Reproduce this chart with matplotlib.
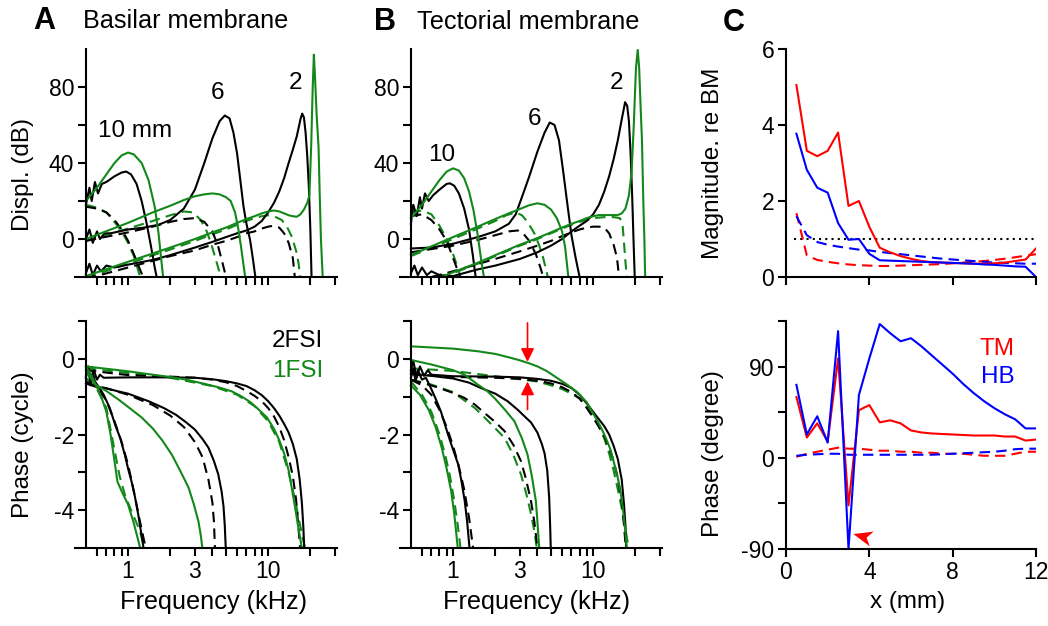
import numpy as np
import matplotlib.pyplot as plt
from matplotlib.ticker import NullFormatter

plt.rcParams['font.family'] = ['Liberation Sans', 'DejaVu Sans']

GREEN = '#13881a'

# ---------------- Panel A top: basilar membrane displacement (kHz, dB) ----------------
bm_k10 = [(0.5,18),(0.53,27),(0.55,20),(0.58,30),(0.61,24),(0.65,29),(0.7,30),(0.8,33),(0.9,35),
          (0.97,35.5),(1.05,34),(1.15,29),(1.25,20),(1.35,9),(1.45,-3),(1.55,-15),(1.6,-20)]
bm_g10 = [(0.5,20),(0.6,27),(0.7,34),(0.8,40),(0.9,44),(1.0,45.5),(1.1,44.5),(1.25,40),(1.4,31),
          (1.55,17),(1.65,3),(1.72,-10),(1.78,-20)]
bm_kd10 = [(0.5,17),(0.6,16),(0.7,14),(0.8,10),(0.9,5),(1.0,-1),(1.1,-8),(1.2,-15),(1.28,-20)]
bm_gd10 = [(0.5,18),(0.6,16.5),(0.7,14),(0.8,9),(0.9,4),(1.0,-2),(1.1,-9),(1.22,-20)]

bm_k6 = [(0.5,0),(0.53,5),(0.56,-2),(0.6,4),(0.63,0),(0.68,3),(0.75,3),(1.0,5),(1.3,6),(1.65,7.5),
         (2.0,10),(2.5,16),(3.0,26),(3.5,40),(4.0,53),(4.5,62),(4.9,65),(5.3,63.5),(5.65,56),(6.0,45),
         (6.67,17),(7.0,8),(7.43,-0.5),(7.8,-11),(8.1,-20)]
bm_g6 = [(0.5,0),(1.0,8.5),(1.5,14),(2.0,17.5),(2.5,20.5),(3.0,22.5),(3.5,23.5),(4.0,24),(4.5,23.5),
         (5.0,22),(5.4,20),(5.8,14),(6.1,6),(6.4,-4),(6.85,-20)]
bm_kd6 = [(0.5,-1),(1.0,3.5),(1.5,6.5),(2.0,9),(2.5,10.5),(3.0,11),(3.5,9),(4.0,4),(4.4,-4),(4.7,-12),(5.0,-20)]
bm_gd6 = [(0.5,-1),(1.0,5.5),(1.5,9.5),(2.0,12.5),(2.5,14.5),(2.9,14),(3.3,10),(3.6,5),(3.9,-2),(4.2,-10),(4.6,-20)]

bm_k2 = [(0.5,-18),(0.53,-13),(0.56,-19),(0.6,-14),(0.64,-17),(0.7,-14),(0.8,-15),(1.0,-13.5),(1.5,-11),
         (2.0,-8.5),(3.0,-4.5),(4.0,-1.5),(5.0,1),(6.0,3),(7.0,4.5),(8.0,6.5),(9.0,9.5),(10.0,14),(11.0,19),
         (12.0,25),(13.0,32),(14.0,40),(15.0,47),(16.0,54),(17.0,63),(17.5,66),(18.0,64),(18.5,56),(19.0,44),
         (19.5,28),(20.0,5),(20.4,-20)]
bm_g2 = [(0.5,-19.5),(1.0,-12),(2.0,-4.5),(3.0,0),(4.0,3.5),(5.0,6),(6.0,8.5),(7.0,10.5),(8.0,12),(9.0,13.5),
         (10.0,14.5),(11.0,15),(12.0,14.5),(13.0,13.5),(14.0,12.5),(15.0,12),(16.0,11.7),(17.0,13),(18.0,15.5),
         (19.0,19),(19.7,23),(20.3,50),(20.8,80),(21.2,97),(21.6,85),(22.2,65),(22.9,48),(23.3,25),(23.8,0),(24.5,-20)]
bm_kd2 = [(0.5,-21),(1.0,-15),(2.0,-9),(3.0,-6),(4.0,-3),(5.0,-1),(6.0,1),(7.0,3),(8.0,4),(9.0,5.5),
          (10.0,6.5),(11.0,7),(12.0,6),(13.0,3),(14.0,-2),(15.0,-10),(15.5,-20)]
bm_gd2 = [(0.5,-20.5),(1.0,-13),(2.0,-5.5),(3.0,-1),(4.0,2.5),(5.0,5),(6.0,7.5),(7.0,9.5),(8.0,11),(9.0,12),
          (10.0,12.5),(11.2,11.7),(12.5,10),(13.6,6.5),(14.8,1),(16.0,-7.5),(16.5,-13),(16.9,-20)]

# ---------------- Panel B top: tectorial membrane displacement ----------------
tm_k10 = [(0.5,8),(0.52,18),(0.55,12),(0.58,22),(0.6,16),(0.63,24),(0.67,20),(0.72,23),(0.8,26),(0.9,29),
          (0.95,29.3),(1.02,28),(1.1,24),(1.2,16),(1.3,5),(1.38,-8),(1.45,-20)]
tm_g10 = [(0.5,11),(0.6,18),(0.7,25),(0.8,31),(0.9,35.5),(1.0,37.2),(1.1,36),(1.2,32),(1.3,25),(1.4,15),
          (1.5,2),(1.58,-10),(1.66,-20)]
tm_kd10 = [(0.5,12),(0.6,13),(0.7,10),(0.8,5),(0.9,-1),(1.0,-10),(1.06,-15),(1.12,-20)]
tm_gd10 = [(0.5,14),(0.6,15),(0.7,13),(0.8,7),(0.9,0),(1.0,-8),(1.08,-15),(1.13,-20)]

tm_k6 = [(0.5,-5),(0.7,-4.5),(1.0,-2.5),(1.5,1),(2.0,4),(2.5,8),(2.8,13),(3.1,22),(3.5,33),(4.0,46),(4.5,56),
         (4.9,61.3),(5.3,60),(5.7,52),(6.1,36),(6.5,20),(7.0,2),(7.5,-10),(8.0,-20)]
tm_g6 = [(0.5,-8.5),(1.0,1),(1.5,6.5),(2.0,10.5),(2.5,13.5),(3.0,15.8),(3.5,17.8),(4.0,18.8),(4.5,18),
         (5.0,15.5),(5.5,11),(6.0,4),(6.3,-4),(6.65,-20)]
tm_kd6 = [(0.5,-7),(1.0,-3.5),(1.5,-0.5),(2.0,2),(2.5,4),(2.9,4.5),(3.2,2.5),(3.5,-1),(3.9,-8),(4.2,-15),(4.4,-20)]
tm_gd6 = [(0.5,-9),(1.0,0),(1.5,5.5),(2.0,9.5),(2.4,12.5),(2.8,14),(3.1,12.5),(3.4,9),(3.8,3),(4.1,-3),
          (4.4,-10),(4.75,-20)]

tm_k2 = [(0.5,-18),(0.53,-14),(0.56,-19),(0.6,-15),(0.65,-19),(0.7,-17),(0.8,-19),(1.0,-19.5),(1.5,-16),
         (2.0,-14),(3.0,-10.5),(4.0,-7),(5.0,-3.5),(6.0,0),(7.0,4),(8.0,7),(9.0,9.5),(10.0,13),(11.0,18),
         (12.0,25),(13.0,33),(14.0,42),(15.0,52),(16.0,63),(16.9,72),(17.5,70),(18.0,62),(18.5,45),(19.0,22),
         (19.4,0),(19.8,-20)]
tm_g2 = [(0.83,-20),(1.0,-17.5),(1.5,-12.5),(2.0,-8.5),(3.0,-3),(4.0,0.5),(5.0,3.5),(6.0,6),(7.0,8),(8.0,9.5),
         (9.0,11),(10.0,12),(11.0,12.6),(13.0,12.6),(15.0,12.6),(16.0,13.5),(17.0,16),(18.0,23),(18.8,35),
         (19.5,60),(20.2,90),(20.8,99.5),(21.3,90),(21.8,70),(22.3,52),(22.8,20),(23.2,0),(23.5,-20)]
tm_kd2 = [(0.7,-20),(1.0,-17),(2.0,-10.5),(3.0,-6.5),(4.0,-3.5),(5.0,-1),(6.0,1.5),(7.0,3.5),(8.0,5),(9.0,6),
          (10.0,6.5),(11.0,6.5),(12.0,6),(13.0,3),(14.0,-3),(14.8,-10),(15.3,-20)]
tm_gd2 = [(0.8,-20),(1.0,-18),(1.5,-13),(2.0,-9),(3.0,-3.5),(4.0,0),(5.0,3),(6.0,5.5),(7.0,7.5),(8.0,9),
          (10.0,11),(12.0,11.5),(14.0,11.5),(15.5,11),(16.2,8),(16.6,-2),(17.0,-12),(17.4,-20)]

# ---------------- Panel A bottom: BM phase (cycle) ----------------
bmp_k10 = [(0.5,-0.5),(0.52,-0.2),(0.54,-0.7),(0.56,-0.35),(0.58,-0.6),(0.62,-0.75),(0.67,-0.95),(0.74,-1.3),
           (0.81,-1.75),(0.88,-2.1),(0.95,-2.55),(1.0,-2.9),(1.06,-3.25),(1.12,-3.65),(1.18,-4.1),(1.24,-4.6),(1.29,-5)]
bmp_kd10 = [(0.5,-0.6),(0.6,-0.75),(0.7,-1.1),(0.8,-1.65),(0.9,-2.2),(1.0,-2.8),(1.1,-3.5),(1.2,-4.2),(1.3,-4.8),(1.34,-5)]
bmp_g10 = [(0.5,-0.2),(0.55,-0.45),(0.6,-0.75),(0.65,-1.05),(0.7,-1.4),(0.75,-2.0),(0.8,-2.7),(0.84,-3.25),
           (0.9,-3.5),(1.0,-3.85),(1.1,-4.35),(1.22,-5)]
bmp_gd10 = [(0.5,-0.5),(0.6,-0.8),(0.7,-1.3),(0.8,-2.4),(0.87,-3.1),(0.95,-3.6),(1.05,-4.0),(1.2,-4.5),(1.32,-5)]

bmp_k6 = [(0.5,-0.65),(0.58,-0.73),(0.7,-0.78),(0.85,-0.86),(1.0,-0.92),(1.4,-1.12),(1.8,-1.3),(2.2,-1.48),
          (2.6,-1.68),(3.0,-1.87),(3.4,-2.12),(3.75,-2.35),(4.1,-2.7),(4.4,-3.05),(4.65,-3.5),(4.8,-3.9),(4.9,-4.4),(4.98,-5)]
bmp_kd6 = [(0.5,-0.65),(0.7,-0.78),(1.0,-0.95),(1.5,-1.22),(2.0,-1.5),(2.5,-1.8),(3.0,-2.2),(3.4,-2.6),
           (3.75,-3.2),(4.0,-3.8),(4.1,-4.3),(4.17,-5)]
bmp_g6 = [(0.5,-0.3),(0.58,-0.68),(0.7,-0.85),(0.85,-1.07),(1.0,-1.27),(1.25,-1.55),(1.5,-1.84),(1.75,-2.15),
          (2.05,-2.53),(2.35,-2.95),(2.7,-3.4),(2.95,-3.85),(3.18,-4.3),(3.3,-4.65),(3.39,-5)]

bmp_k2 = [(0.5,-0.45),(0.52,-0.25),(0.54,-0.6),(0.57,-0.3),(0.6,-0.55),(0.63,-0.42),(0.67,-0.5),(1.0,-0.49),
          (2.0,-0.49),(3.0,-0.5),(4.0,-0.54),(5.0,-0.59),(6.0,-0.65),(7.0,-0.72),(8.0,-0.83),(9.0,-0.96),
          (10.0,-1.12),(11.0,-1.3),(12.0,-1.5),(13.0,-1.72),(14.0,-1.95),(15.0,-2.25),(16.0,-2.65),(16.8,-3.2),
          (17.4,-3.8),(17.8,-4.4),(18.1,-5)]
bmp_kd2 = [(0.5,-0.3),(1.0,-0.43),(2.0,-0.47),(3.0,-0.5),(4.0,-0.55),(5.0,-0.62),(6.0,-0.72),(7.0,-0.85),
           (8.0,-0.98),(9.0,-1.12),(10.0,-1.3),(11.0,-1.52),(12.0,-1.8),(13.0,-2.15),(14.0,-2.6),(15.0,-3.1),
           (15.8,-3.7),(16.4,-4.4),(16.9,-5)]
bmp_g2 = [(0.5,-0.2),(1.0,-0.33),(1.5,-0.42),(2.0,-0.48),(2.6,-0.55),(3.5,-0.66),(4.5,-0.76),(5.5,-0.86),
          (6.5,-1.0),(7.5,-1.15),(8.5,-1.33),(9.8,-1.55),(11.0,-1.85),(12.0,-2.15),(13.0,-2.5),(14.0,-2.95),
          (14.8,-3.45),(15.6,-3.95),(16.4,-4.45),(17.4,-5)]
bmp_gd2 = [(0.5,-0.25),(2.0,-0.5),(4.0,-0.72),(6.0,-0.95),(8.0,-1.25),(10.0,-1.65),(12.0,-2.2),(14.0,-3.0),
           (15.5,-3.7),(16.8,-4.35),(18.3,-5)]

# ---------------- Panel B bottom: TM phase (cycle) ----------------
tmp_k10 = [(0.5,-0.5),(0.52,-0.25),(0.54,-0.6),(0.56,-0.3),(0.6,-0.55),(0.64,-0.5),(0.68,-0.7),(0.75,-1.05),
           (0.82,-1.4),(0.92,-2.0),(1.0,-2.4),(1.09,-2.8),(1.15,-3.25),(1.21,-3.75),(1.26,-4.3),(1.31,-5)]
tmp_kd10 = [(0.5,-0.55),(0.6,-0.7),(0.7,-0.95),(0.8,-1.35),(0.9,-1.8),(1.0,-2.3),(1.1,-2.85),(1.2,-3.45),(1.3,-4.2),(1.39,-5)]
tmp_g10 = [(0.5,-0.7),(0.58,-0.95),(0.67,-1.35),(0.75,-1.8),(0.83,-2.35),(0.9,-2.9),(0.97,-3.5),(1.02,-4.1),(1.08,-5)]
tmp_gd10 = [(0.5,-0.6),(0.6,-0.95),(0.7,-1.4),(0.8,-2.0),(0.88,-2.55),(0.95,-3.1),(1.02,-3.75),(1.08,-4.4),(1.13,-5)]

tmp_k6 = [(0.5,-0.4),(0.7,-0.45),(1.0,-0.52),(1.3,-0.63),(1.6,-0.78),(2.0,-0.92),(2.45,-1.12),(2.9,-1.35),
          (3.3,-1.55),(3.6,-1.68),(4.0,-1.95),(4.3,-2.25),(4.5,-2.5),(4.7,-2.95),(4.85,-3.65),(4.93,-4.4),(4.98,-5)]
tmp_kd6 = [(0.5,-0.55),(0.74,-0.73),(1.0,-0.9),(1.2,-1.03),(1.43,-1.21),(1.7,-1.45),(2.0,-1.67),(2.33,-1.91),
           (2.7,-2.28),(3.05,-2.7),(3.3,-3.15),(3.6,-3.76),(3.8,-4.3),(4.0,-5)]
tmp_g6 = [(0.5,-0.03),(0.7,-0.15),(1.0,-0.3),(1.21,-0.42),(1.5,-0.68),(1.75,-0.85),(1.98,-1.04),(2.35,-1.35),
          (2.74,-1.65),(3.1,-2.1),(3.4,-2.53),(3.65,-3.1),(3.9,-3.76),(4.0,-4.3),(4.12,-5)]
tmp_gd6 = [(0.5,-0.55),(0.7,-0.68),(1.0,-0.88),(1.43,-1.3),(1.9,-1.75),(2.33,-2.09),(2.7,-2.55),(3.05,-3.05),
           (3.35,-3.6),(3.6,-4.1),(3.8,-4.55),(3.96,-5)]

tmp_k2 = [(0.5,-0.3),(0.52,-0.05),(0.55,-0.5),(0.58,-0.2),(0.62,-0.45),(0.66,-0.3),(0.7,-0.42),(1.0,-0.46),
          (2.0,-0.47),(3.0,-0.49),(4.0,-0.53),(5.0,-0.58),(6.0,-0.66),(7.0,-0.77),(8.0,-0.95),(9.0,-1.18),
          (10.0,-1.4),(11.0,-1.6),(12.0,-1.78),(13.0,-2.0),(14.0,-2.3),(15.0,-2.65),(16.0,-3.2),(16.6,-3.85),
          (17.0,-4.4),(17.2,-5)]
tmp_kd2 = [(0.5,-0.4),(1.0,-0.48),(2.0,-0.5),(3.0,-0.53),(4.0,-0.58),(5.0,-0.65),(6.0,-0.75),(7.0,-0.88),
           (8.0,-1.05),(9.0,-1.3),(10.0,-1.55),(11.0,-1.8),(12.0,-2.05),(13.0,-2.35),(14.0,-2.7),(15.0,-3.15),
           (16.0,-3.8),(16.6,-4.4),(17.1,-5)]
tmp_g2 = [(0.5,0.33),(1.0,0.27),(1.5,0.2),(2.0,0.13),(2.5,0.04),(3.0,-0.04),(3.5,-0.12),(4.0,-0.2),(4.7,-0.33),
          (5.5,-0.5),(6.5,-0.68),(7.7,-0.88),(9.0,-1.15),(10.1,-1.47),(11.5,-1.85),(12.5,-2.15),(13.3,-2.4),
          (14.2,-2.8),(15.0,-3.15),(15.6,-3.45),(16.3,-3.95),(16.9,-4.5),(17.4,-5)]
tmp_gd2 = [(0.5,-0.25),(1.0,-0.32),(2.0,-0.46),(3.0,-0.54),(4.0,-0.6),(5.0,-0.7),(6.0,-0.8),(7.0,-0.92),
           (8.0,-1.05),(9.0,-1.25),(10.0,-1.5),(11.0,-1.8),(12.0,-2.1),(13.0,-2.5),(14.0,-2.95),(15.0,-3.45),
           (16.0,-3.95),(17.0,-4.5),(17.9,-5)]

# ---------------- Panel C: ratios vs position ----------------
x_mm = np.arange(0.5, 12.01, 0.5)
mag_tm = [5.05,3.32,3.18,3.32,3.8,1.87,2.0,1.32,0.77,0.65,0.55,0.48,0.42,0.39,0.38,0.37,0.36,0.35,0.35,0.36,0.38,0.42,0.46,0.75]
mag_hb = [3.77,2.82,2.35,2.22,1.42,0.98,1.0,0.61,0.44,0.43,0.42,0.41,0.40,0.39,0.38,0.37,0.36,0.35,0.33,0.32,0.30,0.28,0.27,0.0]
mag_tm_1 = [1.68,0.57,0.45,0.4,0.36,0.33,0.31,0.3,0.29,0.29,0.3,0.31,0.32,0.33,0.34,0.36,0.38,0.4,0.42,0.45,0.48,0.52,0.56,0.6]
mag_hb_1 = [1.6,1.1,0.92,0.85,0.8,0.76,0.72,0.7,0.66,0.63,0.6,0.57,0.54,0.51,0.48,0.46,0.44,0.42,0.4,0.38,0.37,0.36,0.35,0.35]
ph_tm = [60,20,34,16,98,-47,47,52,35,37,34,27,25,24,23.5,23,22.5,22,22,22,21,21,17,18]
ph_hb = [72,23,41,15,125,-90,62,98,132,123,115,118,110,101,92,83,73,64,56,49,43,38,29,29]
ph_tm_1 = [1,4,6,8,10,9,9,8,7,7,6,6,5,5,4,4,4,3,2,2,2,4,6,6]
ph_hb_1 = [2,3,3.5,4,4,3,3,3,3,3,3,3,3,3,3.5,4,4.5,5,5.5,6,7,8.5,9,9]

freq_major = [1, 3, 10]
freq_minor = [0.6, 0.7, 0.8, 0.9, 2, 4, 5, 6, 7, 8, 9, 20, 30]

W, H = 1048, 626
fig = plt.figure(figsize=(W / 100, H / 100), dpi=100)


def rect(l, t, r, b):
    return [l / W, 1 - b / H, (r - l) / W, (b - t) / H]


def curve(ax, pts, color, dashed=False):
    f, v = zip(*pts)
    ax.plot(f, v, color=color, lw=1.5, ls=(0, (5, 3)) if dashed else '-')


def style(ax):
    for s in ['top', 'right']:
        ax.spines[s].set_visible(False)
    for s in ['left', 'bottom']:
        ax.spines[s].set_linewidth(1.5)
    ax.tick_params(which='both', direction='out', length=5.5, width=1.5, labelsize=16.5, pad=3)


def freq_axes(ax, top):
    style(ax)
    ax.set_xscale('log')
    ax.set_xlim(0.418, 31)
    ax.spines['left'].set_position(('data', 0.5))
    ax.set_xticks(freq_major)
    ax.set_xticks(freq_minor, minor=True)
    ax.xaxis.set_minor_formatter(NullFormatter())
    if top:
        ax.set_xticklabels([])
        ax.set_ylim(-20, 100)
        ax.set_yticks([0, 20, 40, 60, 80])
        ax.set_yticklabels(['0', '', '40', '', '80'])
    else:
        ax.set_xticklabels(['1', '3', '10'])
        ax.set_ylim(-5, 1)
        ax.set_yticks([1, 0, -1, -2, -3, -4])
        ax.set_yticklabels(['', '0', '', '-2', '', '-4'])
        ax.set_xlabel('Frequency (kHz)', fontsize=18.2)


axA1 = fig.add_axes(rect(75, 49, 337, 277))
axA2 = fig.add_axes(rect(75, 321, 337, 548))
axB1 = fig.add_axes(rect(400, 49, 662, 277))
axB2 = fig.add_axes(rect(400, 321, 662, 548))
axC1 = fig.add_axes(rect(786, 49, 1036, 277))
axC2 = fig.add_axes(rect(786, 321, 1036, 549))

# A top
for p in [bm_gd10, bm_gd6, bm_gd2]:
    curve(axA1, p, GREEN, True)
for p in [bm_kd10, bm_kd6, bm_kd2]:
    curve(axA1, p, 'k', True)
for p in [bm_k10, bm_k6, bm_k2]:
    curve(axA1, p, 'k')
for p in [bm_g10, bm_g6, bm_g2]:
    curve(axA1, p, GREEN)
freq_axes(axA1, True)
axA1.set_ylabel('Displ. (dB)', fontsize=17.5)
axA1.yaxis.set_label_coords(-0.156, 0.45)
axA1.text(1.13, 57, '10 mm', ha='center', va='center', fontsize=17.5)
axA1.text(4.32, 77, '6', ha='center', va='center', fontsize=17.5)
axA1.text(15.6, 82, '2', ha='center', va='center', fontsize=17.5)

# B top
for p in [tm_gd10, tm_gd6, tm_gd2]:
    curve(axB1, p, GREEN, True)
for p in [tm_kd10, tm_kd6, tm_kd2]:
    curve(axB1, p, 'k', True)
for p in [tm_k10, tm_k6, tm_k2]:
    curve(axB1, p, 'k')
for p in [tm_g10, tm_g6, tm_g2]:
    curve(axB1, p, GREEN)
freq_axes(axB1, True)
axB1.text(0.835, 44, '10', ha='center', va='center', fontsize=17.5)
axB1.text(3.81, 63, '6', ha='center', va='center', fontsize=17.5)
axB1.text(14.7, 82, '2', ha='center', va='center', fontsize=17.5)

# A bottom
for p in [bmp_gd10, bmp_gd2]:
    curve(axA2, p, GREEN, True)
for p in [bmp_kd10, bmp_kd6, bmp_kd2]:
    curve(axA2, p, 'k', True)
for p in [bmp_k10, bmp_k6, bmp_k2]:
    curve(axA2, p, 'k')
for p in [bmp_g10, bmp_g6, bmp_g2]:
    curve(axA2, p, GREEN)
freq_axes(axA2, False)
axA2.set_ylabel('Phase (cycle)', fontsize=17.5)
axA2.yaxis.set_label_coords(-0.156, 0.455)
axA2.xaxis.set_label_coords(0.53, -0.185)
axA2.text(24.7, 0.47, '2FSI', ha='right', va='center', fontsize=17.5, color='k')
axA2.text(24.7, -0.32, '1FSI', ha='right', va='center', fontsize=17.5, color=GREEN)

# B bottom
for p in [tmp_gd10, tmp_gd6, tmp_gd2]:
    curve(axB2, p, GREEN, True)
for p in [tmp_kd10, tmp_kd6, tmp_kd2]:
    curve(axB2, p, 'k', True)
for p in [tmp_k10, tmp_k6, tmp_k2]:
    curve(axB2, p, 'k')
for p in [tmp_g10, tmp_g6, tmp_g2]:
    curve(axB2, p, GREEN)
freq_axes(axB2, False)
axB2.xaxis.set_label_coords(0.52, -0.185)
arrow = dict(arrowstyle='-|>', color='red', lw=1.2, mutation_scale=20, shrinkA=0, shrinkB=0)
axB2.annotate('', xy=(3.4, -0.08), xytext=(3.4, 0.95), arrowprops=arrow)
axB2.annotate('', xy=(3.4, -0.6), xytext=(3.4, -1.34), arrowprops=arrow)

# C top
style(axC1)
axC1.axhline(1, xmin=0.03, color='k', ls=(0, (1, 2)), lw=1.5)
axC1.plot(x_mm, mag_tm_1, color='red', lw=1.5, ls=(0, (5, 3)))
axC1.plot(x_mm, mag_hb_1, color='blue', lw=1.5, ls=(0, (5, 3)))
axC1.plot(x_mm, mag_tm, color='red', lw=1.5)
axC1.plot(x_mm, mag_hb, color='blue', lw=1.5)
axC1.set_xlim(0, 12)
axC1.set_ylim(0, 6)
axC1.set_xticks([0, 4, 8, 12])
axC1.set_xticklabels([])
axC1.set_yticks([0, 2, 4, 6])
axC1.set_ylabel('Magnitude. re BM', fontsize=17.5)
axC1.yaxis.set_label_coords(-0.248, 0.5)

# C bottom
style(axC2)
axC2.plot(x_mm, ph_tm_1, color='red', lw=1.5, ls=(0, (5, 3)))
axC2.plot(x_mm, ph_hb_1, color='blue', lw=1.5, ls=(0, (5, 3)))
axC2.plot(x_mm, ph_tm, color='red', lw=1.5)
axC2.plot(x_mm, ph_hb, color='blue', lw=1.5)
axC2.set_xlim(0, 12)
axC2.set_ylim(-90, 135)
axC2.set_xticks([0, 4, 8, 12])
axC2.set_yticks([-90, -45, 0, 45, 90, 135])
axC2.set_yticklabels(['-90', '', '0', '', '90', ''])
axC2.set_xlabel('x (mm)', fontsize=17.5)
axC2.xaxis.set_label_coords(0.485, -0.185)
axC2.set_ylabel('Phase (degree)', fontsize=17.5)
axC2.yaxis.set_label_coords(-0.248, 0.42)
axC2.text(10.97, 107, 'TM', ha='right', va='center', fontsize=17.5, color='red')
axC2.text(10.97, 80, 'HB', ha='right', va='center', fontsize=17.5, color='blue')

# notched arrowhead marker pointing left (slightly up)
ang = np.deg2rad(-15)
head = np.array([(-1.0, 0.0), (1.0, 0.8), (0.45, 0.0), (1.0, -0.8), (-1.0, 0.0)])
rot = np.array([[np.cos(ang), -np.sin(ang)], [np.sin(ang), np.cos(ang)]])
head = head @ rot.T
axC2.plot([3.65], [-77], marker=head, markersize=16, color='red', markeredgewidth=0, clip_on=False)

# panel letters and titles
fig.text(0.0315, 0.966, 'A', fontsize=22, fontweight='bold', va='center')
fig.text(0.0792, 0.966, 'Basilar membrane', fontsize=18.2, va='center')
fig.text(0.357, 0.965, 'B', fontsize=22, fontweight='bold', va='center')
fig.text(0.398, 0.965, 'Tectorial membrane', fontsize=18.2, va='center')
fig.text(0.69, 0.964, 'C', fontsize=22, fontweight='bold', va='center')

fig.savefig('out.png', dpi=100)
